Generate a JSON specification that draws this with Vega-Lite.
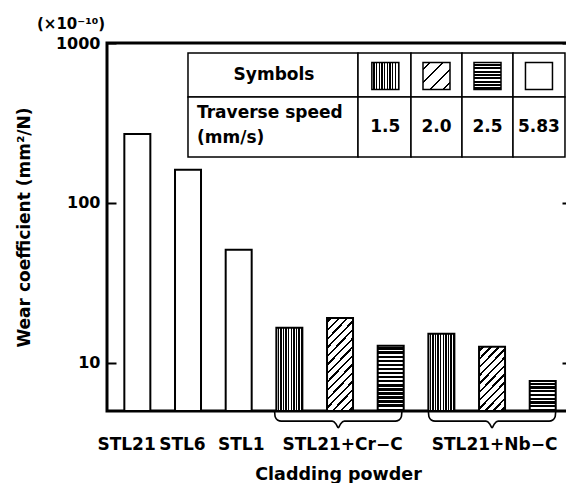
{
  "$schema": "https://vega.github.io/schema/vega-lite/v6.json",
  "width": 462,
  "height": 368,
  "autosize": {"type": "none"},
  "padding": {"left": 107, "top": 43, "right": 0, "bottom": 72},
  "background": "white",
  "config": {
    "view": {"stroke": "black", "strokeWidth": 3},
    "font": "DejaVu Sans"
  },
  "title": {"text": "(×10⁻¹⁰)", "anchor": "start", "frame": "group", "dx": -70, "offset": 3, "font": "DejaVu Sans", "fontSize": 15, "fontWeight": "bold", "color": "black"},
  "layer": [
    {
      "layer": [
        {
          "data": {"values": [
            {"powder": "STL21", "speed": "5.83", "order": 1, "wear": 270},
            {"powder": "STL6", "speed": "5.83", "order": 2, "wear": 161},
            {"powder": "STL1", "speed": "5.83", "order": 3, "wear": 51},
            {"powder": "STL21+Cr−C", "speed": "1.5", "order": 4, "wear": 16.6},
            {"powder": "STL21+Cr−C", "speed": "2.0", "order": 5, "wear": 19.1},
            {"powder": "STL21+Cr−C", "speed": "2.5", "order": 6, "wear": 12.8},
            {"powder": "STL21+Nb−C", "speed": "1.5", "order": 7, "wear": 15.2},
            {"powder": "STL21+Nb−C", "speed": "2.0", "order": 8, "wear": 12.6},
            {"powder": "STL21+Nb−C", "speed": "2.5", "order": 9, "wear": 7.7}
          ]},
          "encoding": {
            "x": {"field": "order", "type": "quantitative", "title": "Cladding powder",
              "scale": {"domain": [0.5, 9.42], "nice": false, "zero": false},
              "axis": {"values": [0.778, 1.88, 3.04, 5.04, 8.04],
                "labelExpr": "datum.value < 1.5 ? 'STL21' : datum.value < 2.5 ? 'STL6' : datum.value < 4 ? 'STL1' : datum.value < 6 ? 'STL21+Cr−C' : 'STL21+Nb−C'",
                "ticks": false, "domain": false, "grid": false, "labelOverlap": false, "labelBound": false, "labelFlush": false,
                "labelFont": "DejaVu Sans", "labelFontSize": 17, "labelFontWeight": "bold", "labelColor": "black", "labelPadding": 25,
                "titleFont": "DejaVu Sans", "titleFontSize": 17.5, "titleFontWeight": "bold", "titleColor": "black", "titlePadding": 13}},
            "y": {"field": "wear", "type": "quantitative", "title": "Wear coefficient  (mm²/N)",
              "scale": {"type": "log", "domain": [5, 1000], "nice": false},
              "axis": {"values": [10, 100, 1000], "format": "d", "domain": false,
                "ticks": false, "grid": true, "gridColor": "black", "gridWidth": 2, "gridOpacity": 1, "gridDash": [9, 446, 7, 100],
                "labelFont": "DejaVu Sans", "labelFontSize": 16, "labelFontWeight": "bold", "labelColor": "black", "labelPadding": 7,
                "titleFont": "DejaVu Sans", "titleFontSize": 17, "titleFontWeight": "bold", "titleColor": "black", "titlePadding": 22}},
            "y2": {"datum": 5}
          },
          "layer": [
            {"transform": [{"filter": "datum.speed == '5.83'"}],
             "mark": {"type": "bar", "size": 26, "fill": "white", "stroke": "black", "strokeWidth": 2}},
            {"transform": [{"filter": "datum.speed == '1.5'"}],
             "mark": {"type": "bar", "size": 26, "stroke": "black", "strokeWidth": 2,
               "fill": {"gradient": "linear", "x1": 0, "y1": 0, "x2": 1, "y2": 0, "stops": [
                 {"offset": 0, "color": "white"}, {"offset": 0.05, "color": "white"}, {"offset": 0.05, "color": "black"}, {"offset": 0.1, "color": "black"},
                 {"offset": 0.1, "color": "white"}, {"offset": 0.15, "color": "white"}, {"offset": 0.15, "color": "black"}, {"offset": 0.2, "color": "black"},
                 {"offset": 0.2, "color": "white"}, {"offset": 0.25, "color": "white"}, {"offset": 0.25, "color": "black"}, {"offset": 0.3, "color": "black"},
                 {"offset": 0.3, "color": "white"}, {"offset": 0.35, "color": "white"}, {"offset": 0.35, "color": "black"}, {"offset": 0.4, "color": "black"},
                 {"offset": 0.4, "color": "white"}, {"offset": 0.45, "color": "white"}, {"offset": 0.45, "color": "black"}, {"offset": 0.5, "color": "black"},
                 {"offset": 0.5, "color": "white"}, {"offset": 0.55, "color": "white"}, {"offset": 0.55, "color": "black"}, {"offset": 0.6, "color": "black"},
                 {"offset": 0.6, "color": "white"}, {"offset": 0.65, "color": "white"}, {"offset": 0.65, "color": "black"}, {"offset": 0.7, "color": "black"},
                 {"offset": 0.7, "color": "white"}, {"offset": 0.75, "color": "white"}, {"offset": 0.75, "color": "black"}, {"offset": 0.8, "color": "black"},
                 {"offset": 0.8, "color": "white"}, {"offset": 0.85, "color": "white"}, {"offset": 0.85, "color": "black"}, {"offset": 0.9, "color": "black"},
                 {"offset": 0.9, "color": "white"}, {"offset": 0.95, "color": "white"}, {"offset": 0.95, "color": "black"}, {"offset": 1, "color": "black"}]}}},
            {"transform": [{"filter": "datum.order == 5"}],
             "mark": {"type": "bar", "size": 26, "stroke": "black", "strokeWidth": 2,
               "fill": {"gradient": "linear", "x1": 0, "y1": 0, "x2": 0.345, "y2": 1.19, "stops": [
                 {"offset": 0, "color": "white"},
                 {"offset": 0.0257, "color": "white"}, {"offset": 0.0257, "color": "black"}, {"offset": 0.0457, "color": "black"}, {"offset": 0.0457, "color": "white"},
                 {"offset": 0.0971, "color": "white"}, {"offset": 0.0971, "color": "black"}, {"offset": 0.1171, "color": "black"}, {"offset": 0.1171, "color": "white"},
                 {"offset": 0.1686, "color": "white"}, {"offset": 0.1686, "color": "black"}, {"offset": 0.1886, "color": "black"}, {"offset": 0.1886, "color": "white"},
                 {"offset": 0.24, "color": "white"}, {"offset": 0.24, "color": "black"}, {"offset": 0.26, "color": "black"}, {"offset": 0.26, "color": "white"},
                 {"offset": 0.3114, "color": "white"}, {"offset": 0.3114, "color": "black"}, {"offset": 0.3314, "color": "black"}, {"offset": 0.3314, "color": "white"},
                 {"offset": 0.3829, "color": "white"}, {"offset": 0.3829, "color": "black"}, {"offset": 0.4029, "color": "black"}, {"offset": 0.4029, "color": "white"},
                 {"offset": 0.4543, "color": "white"}, {"offset": 0.4543, "color": "black"}, {"offset": 0.4743, "color": "black"}, {"offset": 0.4743, "color": "white"},
                 {"offset": 0.5257, "color": "white"}, {"offset": 0.5257, "color": "black"}, {"offset": 0.5457, "color": "black"}, {"offset": 0.5457, "color": "white"},
                 {"offset": 0.5971, "color": "white"}, {"offset": 0.5971, "color": "black"}, {"offset": 0.6171, "color": "black"}, {"offset": 0.6171, "color": "white"},
                 {"offset": 0.6686, "color": "white"}, {"offset": 0.6686, "color": "black"}, {"offset": 0.6886, "color": "black"}, {"offset": 0.6886, "color": "white"},
                 {"offset": 0.74, "color": "white"}, {"offset": 0.74, "color": "black"}, {"offset": 0.76, "color": "black"}, {"offset": 0.76, "color": "white"},
                 {"offset": 0.8114, "color": "white"}, {"offset": 0.8114, "color": "black"}, {"offset": 0.8314, "color": "black"}, {"offset": 0.8314, "color": "white"},
                 {"offset": 0.8829, "color": "white"}, {"offset": 0.8829, "color": "black"}, {"offset": 0.9029, "color": "black"}, {"offset": 0.9029, "color": "white"},
                 {"offset": 0.9543, "color": "white"}, {"offset": 0.9543, "color": "black"}, {"offset": 0.9743, "color": "black"}, {"offset": 0.9743, "color": "white"},
                 {"offset": 1, "color": "white"}]}}},
            {"transform": [{"filter": "datum.order == 8"}],
             "mark": {"type": "bar", "size": 26, "stroke": "black", "strokeWidth": 2,
               "fill": {"gradient": "linear", "x1": 0, "y1": 0, "x2": 0.509, "y2": 1.207, "stops": [
                 {"offset": 0, "color": "white"},
                 {"offset": 0.032, "color": "white"}, {"offset": 0.032, "color": "black"}, {"offset": 0.059, "color": "black"}, {"offset": 0.059, "color": "white"},
                 {"offset": 0.1229, "color": "white"}, {"offset": 0.1229, "color": "black"}, {"offset": 0.1499, "color": "black"}, {"offset": 0.1499, "color": "white"},
                 {"offset": 0.2138, "color": "white"}, {"offset": 0.2138, "color": "black"}, {"offset": 0.2408, "color": "black"}, {"offset": 0.2408, "color": "white"},
                 {"offset": 0.3047, "color": "white"}, {"offset": 0.3047, "color": "black"}, {"offset": 0.3317, "color": "black"}, {"offset": 0.3317, "color": "white"},
                 {"offset": 0.3956, "color": "white"}, {"offset": 0.3956, "color": "black"}, {"offset": 0.4226, "color": "black"}, {"offset": 0.4226, "color": "white"},
                 {"offset": 0.4865, "color": "white"}, {"offset": 0.4865, "color": "black"}, {"offset": 0.5135, "color": "black"}, {"offset": 0.5135, "color": "white"},
                 {"offset": 0.5774, "color": "white"}, {"offset": 0.5774, "color": "black"}, {"offset": 0.6044, "color": "black"}, {"offset": 0.6044, "color": "white"},
                 {"offset": 0.6683, "color": "white"}, {"offset": 0.6683, "color": "black"}, {"offset": 0.6953, "color": "black"}, {"offset": 0.6953, "color": "white"},
                 {"offset": 0.7592, "color": "white"}, {"offset": 0.7592, "color": "black"}, {"offset": 0.7862, "color": "black"}, {"offset": 0.7862, "color": "white"},
                 {"offset": 0.8501, "color": "white"}, {"offset": 0.8501, "color": "black"}, {"offset": 0.8771, "color": "black"}, {"offset": 0.8771, "color": "white"},
                 {"offset": 0.941, "color": "white"}, {"offset": 0.941, "color": "black"}, {"offset": 0.968, "color": "black"}, {"offset": 0.968, "color": "white"},
                 {"offset": 1, "color": "white"}]}}},
            {"transform": [{"filter": "datum.order == 6"}],
             "mark": {"type": "bar", "size": 26, "stroke": "black", "strokeWidth": 2,
               "fill": {"gradient": "linear", "x1": 0, "y1": 0, "x2": 0, "y2": 1, "stops": [
                 {"offset": 0, "color": "white"}, {"offset": 0.025, "color": "white"}, {"offset": 0.025, "color": "black"}, {"offset": 0.0625, "color": "black"},
                 {"offset": 0.0625, "color": "white"}, {"offset": 0.0875, "color": "white"}, {"offset": 0.0875, "color": "black"}, {"offset": 0.125, "color": "black"},
                 {"offset": 0.125, "color": "white"}, {"offset": 0.15, "color": "white"}, {"offset": 0.15, "color": "black"}, {"offset": 0.1875, "color": "black"},
                 {"offset": 0.1875, "color": "white"}, {"offset": 0.2125, "color": "white"}, {"offset": 0.2125, "color": "black"}, {"offset": 0.25, "color": "black"},
                 {"offset": 0.25, "color": "white"}, {"offset": 0.275, "color": "white"}, {"offset": 0.275, "color": "black"}, {"offset": 0.3125, "color": "black"},
                 {"offset": 0.3125, "color": "white"}, {"offset": 0.3375, "color": "white"}, {"offset": 0.3375, "color": "black"}, {"offset": 0.375, "color": "black"},
                 {"offset": 0.375, "color": "white"}, {"offset": 0.4, "color": "white"}, {"offset": 0.4, "color": "black"}, {"offset": 0.4375, "color": "black"},
                 {"offset": 0.4375, "color": "white"}, {"offset": 0.4625, "color": "white"}, {"offset": 0.4625, "color": "black"}, {"offset": 0.5, "color": "black"},
                 {"offset": 0.5, "color": "white"}, {"offset": 0.525, "color": "white"}, {"offset": 0.525, "color": "black"}, {"offset": 0.5625, "color": "black"},
                 {"offset": 0.5625, "color": "white"}, {"offset": 0.5875, "color": "white"}, {"offset": 0.5875, "color": "black"}, {"offset": 0.625, "color": "black"},
                 {"offset": 0.625, "color": "white"}, {"offset": 0.65, "color": "white"}, {"offset": 0.65, "color": "black"}, {"offset": 0.6875, "color": "black"},
                 {"offset": 0.6875, "color": "white"}, {"offset": 0.7125, "color": "white"}, {"offset": 0.7125, "color": "black"}, {"offset": 0.75, "color": "black"},
                 {"offset": 0.75, "color": "white"}, {"offset": 0.775, "color": "white"}, {"offset": 0.775, "color": "black"}, {"offset": 0.8125, "color": "black"},
                 {"offset": 0.8125, "color": "white"}, {"offset": 0.8375, "color": "white"}, {"offset": 0.8375, "color": "black"}, {"offset": 0.875, "color": "black"},
                 {"offset": 0.875, "color": "white"}, {"offset": 0.9, "color": "white"}, {"offset": 0.9, "color": "black"}, {"offset": 0.9375, "color": "black"},
                 {"offset": 0.9375, "color": "white"}, {"offset": 0.9625, "color": "white"}, {"offset": 0.9625, "color": "black"}, {"offset": 1, "color": "black"}]}}},
            {"transform": [{"filter": "datum.order == 9"}],
             "mark": {"type": "bar", "size": 26, "stroke": "black", "strokeWidth": 2,
               "fill": {"gradient": "linear", "x1": 0, "y1": 0, "x2": 0, "y2": 1, "stops": [
                 {"offset": 0, "color": "white"}, {"offset": 0.05, "color": "white"}, {"offset": 0.05, "color": "black"}, {"offset": 0.125, "color": "black"},
                 {"offset": 0.125, "color": "white"}, {"offset": 0.175, "color": "white"}, {"offset": 0.175, "color": "black"}, {"offset": 0.25, "color": "black"},
                 {"offset": 0.25, "color": "white"}, {"offset": 0.3, "color": "white"}, {"offset": 0.3, "color": "black"}, {"offset": 0.375, "color": "black"},
                 {"offset": 0.375, "color": "white"}, {"offset": 0.425, "color": "white"}, {"offset": 0.425, "color": "black"}, {"offset": 0.5, "color": "black"},
                 {"offset": 0.5, "color": "white"}, {"offset": 0.55, "color": "white"}, {"offset": 0.55, "color": "black"}, {"offset": 0.625, "color": "black"},
                 {"offset": 0.625, "color": "white"}, {"offset": 0.675, "color": "white"}, {"offset": 0.675, "color": "black"}, {"offset": 0.75, "color": "black"},
                 {"offset": 0.75, "color": "white"}, {"offset": 0.8, "color": "white"}, {"offset": 0.8, "color": "black"}, {"offset": 0.875, "color": "black"},
                 {"offset": 0.875, "color": "white"}, {"offset": 0.925, "color": "white"}, {"offset": 0.925, "color": "black"}, {"offset": 1, "color": "black"}]}}}
          ]
        },
        {
          "data": {"values": [
            {"group": "Cr", "bx": 3.708, "by": 5.01}, {"group": "Cr", "bx": 3.72, "by": 4.6}, {"group": "Cr", "bx": 3.765, "by": 4.39},
            {"group": "Cr", "bx": 3.84, "by": 4.32}, {"group": "Cr", "bx": 4.845, "by": 4.32}, {"group": "Cr", "bx": 4.92, "by": 4.15},
            {"group": "Cr", "bx": 4.965, "by": 3.93}, {"group": "Cr", "bx": 5.01, "by": 4.15}, {"group": "Cr", "bx": 5.085, "by": 4.32},
            {"group": "Cr", "bx": 6.09, "by": 4.32}, {"group": "Cr", "bx": 6.165, "by": 4.39}, {"group": "Cr", "bx": 6.21, "by": 4.6},
            {"group": "Cr", "bx": 6.222, "by": 5.01},
            {"group": "Nb", "bx": 6.743, "by": 5.01}, {"group": "Nb", "bx": 6.755, "by": 4.6}, {"group": "Nb", "bx": 6.8, "by": 4.39},
            {"group": "Nb", "bx": 6.875, "by": 4.32}, {"group": "Nb", "bx": 7.88, "by": 4.32}, {"group": "Nb", "bx": 7.955, "by": 4.15},
            {"group": "Nb", "bx": 8.0, "by": 3.93}, {"group": "Nb", "bx": 8.045, "by": 4.15}, {"group": "Nb", "bx": 8.12, "by": 4.32},
            {"group": "Nb", "bx": 9.125, "by": 4.32}, {"group": "Nb", "bx": 9.2, "by": 4.39}, {"group": "Nb", "bx": 9.245, "by": 4.6},
            {"group": "Nb", "bx": 9.257, "by": 5.01}
          ]},
          "mark": {"type": "line", "interpolate": "monotone", "stroke": "black", "strokeWidth": 1.6, "clip": false},
          "encoding": {
            "x": {"field": "bx", "type": "quantitative", "title": "Cladding powder"},
            "y": {"field": "by", "type": "quantitative", "title": "Wear coefficient  (mm²/N)"},
            "detail": {"field": "group"}
          }
        }
      ]
    },
    {
      "layer": [
        {
          "data": {"values": [
            {"x0": 17.53, "x1": 54.33, "y0": 2.72, "y1": 14.67},
            {"x0": 54.33, "x1": 65.8, "y0": 2.72, "y1": 14.67},
            {"x0": 65.8, "x1": 76.84, "y0": 2.72, "y1": 14.67},
            {"x0": 76.84, "x1": 87.88, "y0": 2.72, "y1": 14.67},
            {"x0": 87.88, "x1": 99.13, "y0": 2.72, "y1": 14.67},
            {"x0": 17.53, "x1": 54.33, "y0": 14.67, "y1": 30.98},
            {"x0": 54.33, "x1": 65.8, "y0": 14.67, "y1": 30.98},
            {"x0": 65.8, "x1": 76.84, "y0": 14.67, "y1": 30.98},
            {"x0": 76.84, "x1": 87.88, "y0": 14.67, "y1": 30.98},
            {"x0": 87.88, "x1": 99.13, "y0": 14.67, "y1": 30.98}
          ]},
          "mark": {"type": "rect", "fill": "white", "stroke": "black", "strokeWidth": 1.5},
          "encoding": {
            "x": {"field": "x0", "type": "quantitative", "scale": {"domain": [0, 100], "nice": false, "zero": false}, "axis": null},
            "x2": {"field": "x1"},
            "y": {"field": "y0", "type": "quantitative", "scale": {"domain": [0, 100], "nice": false, "zero": false, "reverse": true}, "axis": null},
            "y2": {"field": "y1"}
          }
        },
        {
          "data": {"values": [{"label": "Symbols", "tx": 36.15, "ty": 8.7}]},
          "mark": {"type": "text", "align": "center", "baseline": "middle", "font": "DejaVu Sans", "fontSize": 17, "fontWeight": "bold", "color": "black"},
          "encoding": {
            "x": {"field": "tx", "type": "quantitative", "axis": null},
            "y": {"field": "ty", "type": "quantitative", "axis": null},
            "text": {"field": "label"}
          }
        },
        {
          "data": {"values": [{"label": "Traverse speed", "tx": 19.48, "ty": 19.02}, {"label": "(mm/s)", "tx": 19.48, "ty": 25.82}]},
          "mark": {"type": "text", "align": "left", "baseline": "middle", "font": "DejaVu Sans", "fontSize": 17, "fontWeight": "bold", "color": "black"},
          "encoding": {
            "x": {"field": "tx", "type": "quantitative", "axis": null},
            "y": {"field": "ty", "type": "quantitative", "axis": null},
            "text": {"field": "label"}
          }
        },
        {
          "data": {"values": [
            {"speed": "1.5", "sx": 60.25},
            {"speed": "2.0", "sx": 71.32},
            {"speed": "2.5", "sx": 82.36},
            {"speed": "5.83", "sx": 93.5}
          ]},
          "encoding": {
            "x": {"field": "sx", "type": "quantitative", "axis": null}
          },
          "layer": [
            {"transform": [{"filter": "datum.speed == '1.5'"}],
             "mark": {"type": "square", "size": 729, "filled": true, "opacity": 1, "stroke": "black", "strokeWidth": 1.5,
               "fill": {"gradient": "linear", "x1": 0, "y1": 0, "x2": 1, "y2": 0, "stops": [
                 {"offset": 0, "color": "white"}, {"offset": 0.05, "color": "white"}, {"offset": 0.05, "color": "black"}, {"offset": 0.1, "color": "black"},
                 {"offset": 0.1, "color": "white"}, {"offset": 0.15, "color": "white"}, {"offset": 0.15, "color": "black"}, {"offset": 0.2, "color": "black"},
                 {"offset": 0.2, "color": "white"}, {"offset": 0.25, "color": "white"}, {"offset": 0.25, "color": "black"}, {"offset": 0.3, "color": "black"},
                 {"offset": 0.3, "color": "white"}, {"offset": 0.35, "color": "white"}, {"offset": 0.35, "color": "black"}, {"offset": 0.4, "color": "black"},
                 {"offset": 0.4, "color": "white"}, {"offset": 0.45, "color": "white"}, {"offset": 0.45, "color": "black"}, {"offset": 0.5, "color": "black"},
                 {"offset": 0.5, "color": "white"}, {"offset": 0.55, "color": "white"}, {"offset": 0.55, "color": "black"}, {"offset": 0.6, "color": "black"},
                 {"offset": 0.6, "color": "white"}, {"offset": 0.65, "color": "white"}, {"offset": 0.65, "color": "black"}, {"offset": 0.7, "color": "black"},
                 {"offset": 0.7, "color": "white"}, {"offset": 0.75, "color": "white"}, {"offset": 0.75, "color": "black"}, {"offset": 0.8, "color": "black"},
                 {"offset": 0.8, "color": "white"}, {"offset": 0.85, "color": "white"}, {"offset": 0.85, "color": "black"}, {"offset": 0.9, "color": "black"},
                 {"offset": 0.9, "color": "white"}, {"offset": 0.95, "color": "white"}, {"offset": 0.95, "color": "black"}, {"offset": 1, "color": "black"}]}},
             "encoding": {"y": {"datum": 8.97, "axis": null}}},
            {"transform": [{"filter": "datum.speed == '2.0'"}],
             "mark": {"type": "square", "size": 729, "filled": true, "opacity": 1, "stroke": "black", "strokeWidth": 1.5,
               "fill": {"gradient": "linear", "x1": 0, "y1": 0, "x2": 1, "y2": 1, "stops": [
                 {"offset": 0, "color": "white"},
                 {"offset": 0.103, "color": "white"}, {"offset": 0.103, "color": "black"}, {"offset": 0.147, "color": "black"}, {"offset": 0.147, "color": "white"},
                 {"offset": 0.353, "color": "white"}, {"offset": 0.353, "color": "black"}, {"offset": 0.397, "color": "black"}, {"offset": 0.397, "color": "white"},
                 {"offset": 0.603, "color": "white"}, {"offset": 0.603, "color": "black"}, {"offset": 0.647, "color": "black"}, {"offset": 0.647, "color": "white"},
                 {"offset": 0.853, "color": "white"}, {"offset": 0.853, "color": "black"}, {"offset": 0.897, "color": "black"}, {"offset": 0.897, "color": "white"},
                 {"offset": 1, "color": "white"}]}},
             "encoding": {"y": {"datum": 8.97, "axis": null}}},
            {"transform": [{"filter": "datum.speed == '2.5'"}],
             "mark": {"type": "square", "size": 729, "filled": true, "opacity": 1, "stroke": "black", "strokeWidth": 1.5,
               "fill": {"gradient": "linear", "x1": 0, "y1": 0, "x2": 0, "y2": 1, "stops": [
                 {"offset": 0, "color": "white"}, {"offset": 0.05, "color": "white"}, {"offset": 0.05, "color": "black"}, {"offset": 0.125, "color": "black"},
                 {"offset": 0.125, "color": "white"}, {"offset": 0.175, "color": "white"}, {"offset": 0.175, "color": "black"}, {"offset": 0.25, "color": "black"},
                 {"offset": 0.25, "color": "white"}, {"offset": 0.3, "color": "white"}, {"offset": 0.3, "color": "black"}, {"offset": 0.375, "color": "black"},
                 {"offset": 0.375, "color": "white"}, {"offset": 0.425, "color": "white"}, {"offset": 0.425, "color": "black"}, {"offset": 0.5, "color": "black"},
                 {"offset": 0.5, "color": "white"}, {"offset": 0.55, "color": "white"}, {"offset": 0.55, "color": "black"}, {"offset": 0.625, "color": "black"},
                 {"offset": 0.625, "color": "white"}, {"offset": 0.675, "color": "white"}, {"offset": 0.675, "color": "black"}, {"offset": 0.75, "color": "black"},
                 {"offset": 0.75, "color": "white"}, {"offset": 0.8, "color": "white"}, {"offset": 0.8, "color": "black"}, {"offset": 0.875, "color": "black"},
                 {"offset": 0.875, "color": "white"}, {"offset": 0.925, "color": "white"}, {"offset": 0.925, "color": "black"}, {"offset": 1, "color": "black"}]}},
             "encoding": {"y": {"datum": 8.97, "axis": null}}},
            {"transform": [{"filter": "datum.speed == '5.83'"}],
             "mark": {"type": "square", "size": 729, "filled": true, "opacity": 1, "fill": "white", "stroke": "black", "strokeWidth": 1.5},
             "encoding": {"y": {"datum": 8.97, "axis": null}}},
            {"mark": {"type": "text", "align": "center", "baseline": "middle", "font": "DejaVu Sans", "fontSize": 17, "fontWeight": "bold", "color": "black"},
             "encoding": {"y": {"datum": 22.83, "axis": null}, "text": {"field": "speed"}}}
          ]
        }
      ]
    }
  ],
  "resolve": {"scale": {"x": "independent", "y": "independent"}}
}
